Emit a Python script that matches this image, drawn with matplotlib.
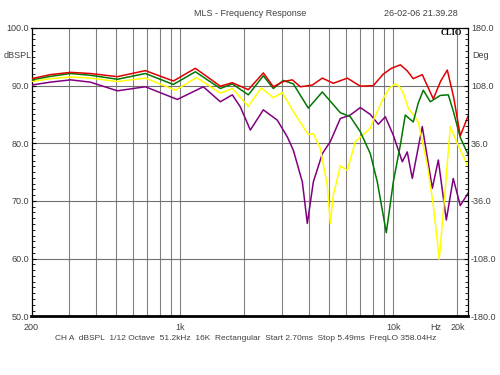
import matplotlib
matplotlib.use("Agg")
import matplotlib.pyplot as plt
from matplotlib.ticker import FixedLocator, NullFormatter

plt.rcParams['font.family'] = ['Liberation Sans', 'DejaVu Sans']

# frequency response curves (Hz, dBSPL)
red_f = [200, 245, 305, 378, 506, 685, 927, 1176, 1541, 1754, 2086, 2453, 2733, 3044, 3357, 3660,
         4167, 4642, 5228, 6081, 7000, 8055, 8976, 9800, 10790, 11600, 12410, 13680, 15410, 16700,
         17930, 19200, 20630, 22490]
red_db = [91.2, 91.9, 92.3, 92.1, 91.55, 92.6, 90.8, 93.0, 89.9, 90.5, 89.3, 92.2, 89.8, 90.7, 91.0, 89.8,
          90.1, 91.3, 90.4, 91.3, 89.9, 90.0, 92.0, 93.0, 93.6, 92.6, 91.2, 91.9, 87.7, 90.8,
          92.7, 88.0, 81.3, 84.8]

green_f = [200, 245, 305, 378, 506, 685, 927, 1176, 1541, 1754, 2086, 2453, 2733, 3044, 3393, 3990,
           4642, 5640, 6283, 7000, 7798, 8412, 9271, 10000, 10790, 11380, 12410, 13100, 13830, 14920,
           16620, 18130, 19120, 20630, 22490]
green_db = [91.0, 91.6, 92.1, 91.8, 91.1, 92.1, 90.2, 92.4, 89.5, 90.3, 88.4, 91.7, 89.5, 90.9, 90.3, 86.1,
            88.9, 85.3, 84.6, 82.0, 78.2, 73.3, 64.5, 73.3, 79.7, 84.9, 83.7, 87.0, 89.2, 87.2,
            88.3, 88.4, 85.6, 81.0, 78.0]

yellow_f = [200, 245, 305, 378, 506, 685, 950, 1190, 1541, 1754, 2086, 2400, 2733, 3012, 3393, 3990,
            4212, 4543, 4898, 5061, 5228, 5640, 6081, 6632, 7798, 8055, 8976, 9600, 10220, 10700,
            11140, 11760, 13100, 14440, 15410, 16440, 17540, 18520, 19970, 22490]
yellow_db = [90.7, 91.2, 91.5, 91.3, 90.7, 91.3, 89.2, 91.4, 88.7, 89.5, 86.4, 89.6, 87.9, 88.8, 85.5, 81.5,
             81.7, 79.1, 72.7, 66.1, 71.0, 76.1, 75.3, 80.3, 82.6, 84.0, 87.8, 89.6, 90.3, 89.8,
             88.7, 86.1, 83.7, 76.2, 69.3, 59.9, 72.2, 82.9, 80.0, 75.9]

purple_f = [200, 245, 305, 378, 506, 685, 968, 1282, 1541, 1754, 1913, 2131, 2453, 2854, 3180, 3393,
            3740, 3947, 4212, 4642, 5061, 5640, 6283, 7000, 7798, 8503, 9173, 10000, 11020, 11630,
            12280, 13680, 15250, 16270, 17740, 19120, 20630, 22490]
purple_db = [90.1, 90.6, 91.0, 90.6, 89.1, 89.8, 87.6, 89.8, 87.2, 88.4, 86.3, 82.3, 85.8, 84.0, 81.1, 78.8,
             73.3, 66.1, 73.3, 78.2, 80.3, 84.3, 84.9, 86.2, 85.0, 83.3, 84.6, 81.4, 76.8, 78.5,
             73.9, 82.9, 72.2, 77.1, 66.7, 73.9, 69.2, 71.4]

grid_f = [300, 400, 500, 600, 700, 800, 900, 1000, 2000, 3000, 4000, 5000, 6000, 7000, 8000, 9000,
          10000, 20000]
left_ticks = [50, 60, 70, 80, 90, 100]
right_ticks = [-180, -108, -36, 36, 108, 180]

txt = '#404040'
fig = plt.figure(figsize=(5, 3.75), dpi=100)
ax = fig.add_axes([0.063, 0.1565, 0.8736, 0.769])

for f in grid_f:
    ax.axvline(f, color='#808080', lw=0.8, zorder=1)
for v in [60, 70, 80, 90]:
    ax.axhline(v, color='#707070', lw=0.8, zorder=1)

ax.plot(purple_f, purple_db, color='#800080', lw=1.1, zorder=3)
ax.plot(yellow_f, yellow_db, color='#ffff00', lw=1.1, zorder=3)
ax.plot(green_f, green_db, color='#007800', lw=1.1, zorder=3)
ax.plot(red_f, red_db, color='#e00000', lw=1.1, zorder=4)

ax.set_xscale('log')
ax.set_xlim(200, 22500)
ax.set_ylim(50, 100)
ax.set_xticks([200, 1000, 10000, 20000])
ax.set_xticklabels(['200', '1k', '10k', '20k'])
ax.xaxis.set_minor_locator(FixedLocator([]))
ax.xaxis.set_minor_formatter(NullFormatter())
ax.tick_params(axis='x', length=0, pad=5, labelsize=6.5, labelcolor=txt)
ax.set_yticks(left_ticks)
ax.set_yticklabels(['%.1f' % v for v in left_ticks])
ax.yaxis.set_minor_locator(FixedLocator(range(50, 101)))
ax.tick_params(axis='y', which='major', direction='in', length=3, width=0.8, pad=2, labelsize=6.5, labelcolor=txt)
ax.tick_params(axis='y', which='minor', direction='in', length=2, width=0.6)
for s in ['left', 'top', 'right']:
    ax.spines[s].set_linewidth(0.9)
ax.spines['bottom'].set_linewidth(2.0)

ax2 = ax.twinx()
ax2.set_ylim(-180, 180)
ax2.set_yticks(right_ticks)
ax2.set_yticklabels(['%.1f' % v for v in right_ticks])
ax2.yaxis.set_minor_locator(FixedLocator([-180 + 7.2 * i for i in range(51)]))
ax2.tick_params(axis='y', which='major', direction='in', length=3, width=0.8, pad=2, labelsize=6.5, labelcolor=txt)
ax2.tick_params(axis='y', which='minor', direction='in', length=2, width=0.6)
for s in ax2.spines.values():
    s.set_visible(False)

fig.text(0.5, 1 - 14 / 375, 'MLS - Frequency Response', ha='center', va='center', fontsize=6.5, color=txt)
fig.text(458 / 500, 1 - 14 / 375, '26-02-06 21.39.28', ha='right', va='center', fontsize=6.5, color=txt)
fig.text(462 / 500, 1 - 33 / 375, 'CLIO', ha='right', va='center', fontsize=6, fontweight='bold',
         family=['Liberation Serif', 'DejaVu Serif'], color='black')
fig.text(4 / 500, 1 - 56 / 375, 'dBSPL', ha='left', va='center', fontsize=6.5, color=txt)
fig.text(472 / 500, 1 - 56 / 375, 'Deg', ha='left', va='center', fontsize=6.5, color=txt)
fig.text(436 / 500, 1 - 327 / 375, 'Hz', ha='center', va='center', fontsize=6.5, color=txt)
fig.text(246 / 500, 1 - 339 / 375,
         'CH A  dBSPL  1/12 Octave  51.2kHz  16K  Rectangular  Start 2.70ms  Stop 5.49ms  FreqLO 358.04Hz',
         ha='center', va='center', fontsize=6, color=txt)

fig.savefig('out.png', dpi=100, facecolor='white')
